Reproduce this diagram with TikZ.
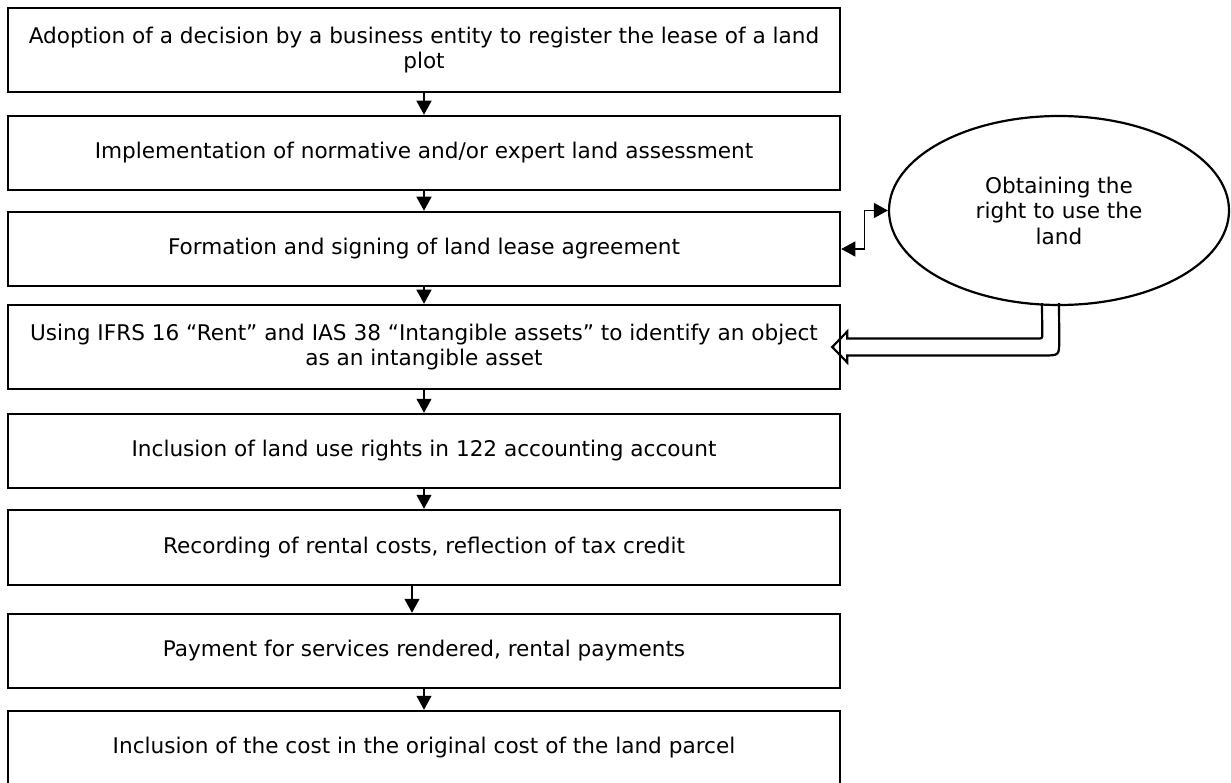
\documentclass[tikz,border=0pt]{standalone}
\usepackage{fontspec}
\setmainfont{DejaVu Sans}
\usetikzlibrary{shapes.geometric,arrows.meta,calc}
\begin{document}
\begin{tikzpicture}[x=1pt,y=-1pt,
  txt/.style={font=\fontsize{21.6}{25.5}\selectfont},
  stepbox/.style={txt, draw, line width=2.5pt, rectangle, minimum width=832pt, inner sep=0pt, align=center},
  arr/.style={line width=1.2pt, -{Triangle[length=14pt,width=15pt]}},
  dblarr/.style={line width=1.2pt, {Triangle[length=14pt,width=15pt]}-{Triangle[length=14pt,width=15pt]}},
  hollow/.style={line width=2.2pt, line join=miter}
]
\useasboundingbox (0,0) rectangle (1231,783);

\node[stepbox, minimum height=84pt] (b1) at (424,50) {Adoption of a decision by a business entity to register the lease of a land\\plot};
\node[stepbox, minimum height=74pt] (b2) at (424,153) {Implementation of normative and/or expert land assessment};
\node[stepbox, minimum height=74pt] (b3) at (424,249) {Formation and signing of land lease agreement};
\node[stepbox, minimum height=84pt] (b4) at (424,347) {Using IFRS 16 “Rent” and IAS 38 “Intangible assets” to identify an object\\as an intangible asset};
\node[stepbox, minimum height=74pt] (b5) at (424,451) {Inclusion of land use rights in 122 accounting account};
\node[stepbox, minimum height=75pt] (b6) at (424,547.5) {Recording of rental costs, reflection of tax credit};
\node[stepbox, minimum height=74pt] (b7) at (424,651) {Payment for services rendered, rental payments};
\node[stepbox, minimum height=74pt] (b8) at (424,748) {Inclusion of the cost in the original cost of the land parcel};

\node[txt, ellipse, draw, line width=2.2pt, minimum width=340pt, minimum height=189pt, inner sep=0pt, align=center] (ell) at (1059,210.5) {Obtaining the\\right to use the\\land};

\draw[arr] (b1) -- (b2);
\draw[arr] (b2) -- (b3);
\draw[arr] (b3) -- (b4);
\draw[arr] (b4) -- (b5);
\draw[arr] (b5) -- (b6);
\draw[arr] ([xshift=-12pt]b6.south) -- ([xshift=-12pt]b7.north);
\draw[arr] (b7) -- (b8);

\draw[dblarr] (b3.east) -- ++(23,0) |- (ell.west);

\draw[hollow] ($(ell.south)+(-17,-3)$) -- ($(b4.east)+(201,-13)$)
  .. controls ($(b4.east)+(201,-8.5)$) .. ($(b4.east)+(196,-8.5)$)
  -- ($(b4.east)+(6,-8.5)$) -- ($(b4.east)+(6,-15.5)$) -- ($(b4.east)+(-9,0)$)
  -- ($(b4.east)+(6,15.5)$) -- ($(b4.east)+(6,8.5)$) -- ($(b4.east)+(202,8.5)$)
  .. controls ($(b4.east)+(218,8.5)$) .. ($(b4.east)+(218,-7.5)$)
  -- ($(ell.south)+(0,-3)$);
\end{tikzpicture}
\end{document}
